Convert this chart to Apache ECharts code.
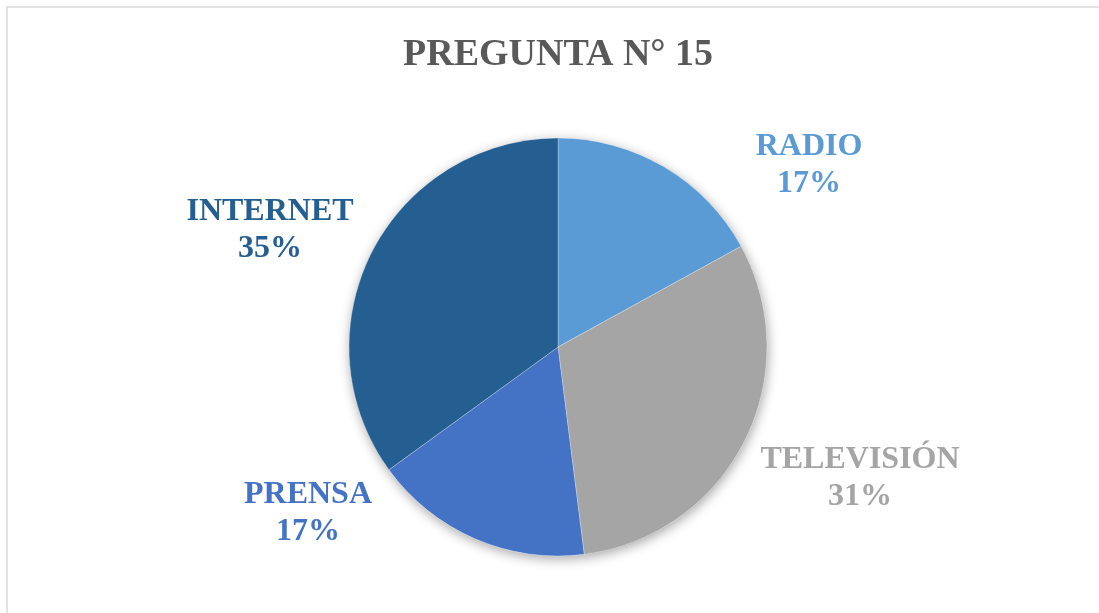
<!DOCTYPE html>
<html>
<head>
<meta charset="utf-8">
<script src="https://cdn.jsdelivr.net/npm/echarts@6/dist/echarts.min.js"></script>
<style>
  html, body { margin: 0; padding: 0; background: #ffffff; }
  #chart { width: 1099px; height: 613px; }
</style>
</head>
<body>
<div id="chart"></div>
<script>
// Survey answers: share of respondents per medium (percent)
const categories = ['RADIO', 'TELEVISIÓN', 'PRENSA', 'INTERNET'];
const values = [17, 31, 17, 35];
const sliceColors = ['#5B9BD5', '#A5A5A5', '#4472C4', '#255E91'];
const titleText = 'PREGUNTA N° 15';

// Label anchor offsets from the pie centre (px), one per slice
const labelOffsets = [[251, -182], [302, 131], [-250, 166], [-288, -117]];

const CX = 558, CY = 347, R = 209;
const serif = '"Liberation Serif", "Times New Roman", serif';

const chart = echarts.init(document.getElementById('chart'), null, { renderer: 'canvas' });

chart.setOption({
  backgroundColor: '#ffffff',
  animation: false,
  title: {
    text: titleText,
    left: CX - 5,
    textAlign: 'center',
    top: 31,
    textStyle: { fontFamily: serif, fontWeight: 'bold', fontSize: 38, color: '#595959' }
  },
  graphic: [{
    type: 'rect',
    silent: true,
    shape: { x: 7, y: 7, width: 1100, height: 620 },
    style: { fill: 'none', stroke: '#D9D9D9', lineWidth: 1.5 }
  }],
  series: [
    {
      // soft drop shadow under the whole pie
      type: 'pie',
      silent: true,
      center: [CX, CY],
      radius: R,
      z: 1,
      label: { show: false },
      labelLine: { show: false },
      itemStyle: {
        color: '#ffffff',
        shadowBlur: 12,
        shadowOffsetX: 1,
        shadowOffsetY: 3,
        shadowColor: 'rgba(0,0,0,0.35)'
      },
      data: [1]
    },
    {
      type: 'pie',
      center: [CX, CY],
      radius: R,
      startAngle: 90,
      clockwise: true,
      z: 2,
      itemStyle: { borderColor: 'rgba(255,255,255,0.5)', borderWidth: 0.5 },
      labelLine: { show: false },
      label: {
        show: true,
        position: 'outside',
        formatter: '{b}\n{c}%',
        fontFamily: serif,
        fontWeight: 'bold',
        fontSize: 32,
        lineHeight: 37,
        align: 'center'
      },
      labelLayout: function (p) {
        const o = labelOffsets[p.dataIndex];
        return { x: CX + o[0], y: CY + o[1], align: 'center', verticalAlign: 'middle' };
      },
      data: categories.map((name, i) => ({
        name: name,
        value: values[i],
        itemStyle: { color: sliceColors[i] },
        label: { color: sliceColors[i] }
      }))
    }
  ]
});
</script>
</body>
</html>
